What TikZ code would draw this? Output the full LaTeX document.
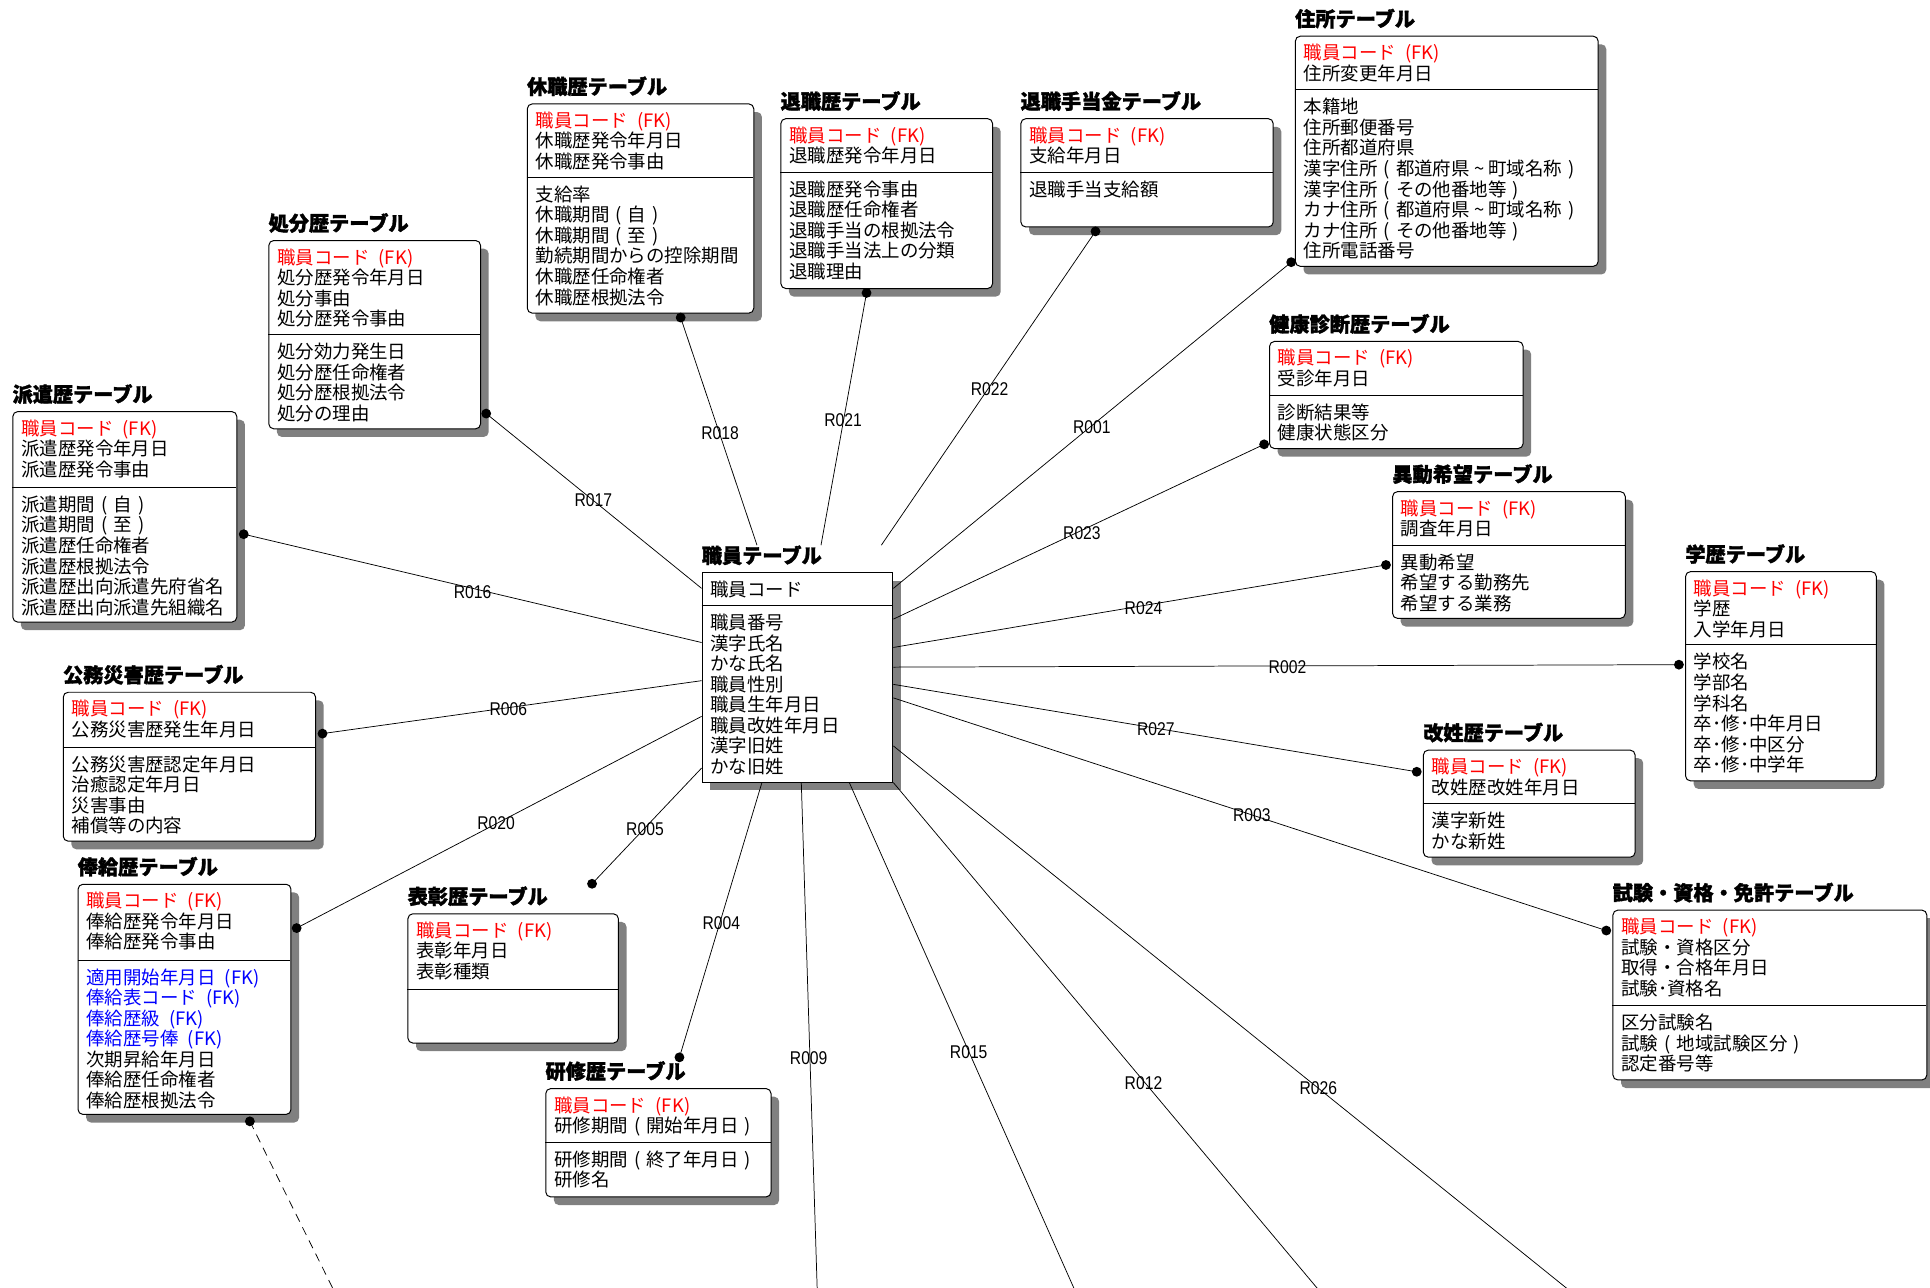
\documentclass[tikz,border=0pt]{standalone}
\usepackage{fontspec}
\usepackage{graphicx}
\newfontfamily\jp{Noto Sans CJK JP}[BoldFeatures={FakeBold=1.6}]
\newfontfamily\lab{Liberation Sans}
\definecolor{shgray}{RGB}{128,128,128}
\definecolor{fkred}{RGB}{255,0,0}
\definecolor{fkblue}{RGB}{0,0,255}
\pgfdeclarelayer{shadowlayer}
\pgfdeclarelayer{linelayer}
\pgfsetlayers{shadowlayer,linelayer,main}
\tikzset{
  entbox/.style={draw=black, fill=white, line width=0.8pt, inner sep=0pt, anchor=north west},
  ttl/.style={anchor=base west, inner sep=0pt, font=\jp\bfseries\fontsize{16.4}{18}\selectfont},
  row/.style={anchor=base west, inner sep=0pt, font=\jp\fontsize{15}{16.7}\selectfont},
  rel/.style={line width=0.6pt, draw=black},
  rlab/.style={inner sep=0pt, font=\lab\fontsize{15}{15}\selectfont},
  enddot/.style={fill=black},
}
\newcommand\pkfk{{\color{fkred}職員コード\enspace(FK)}}
\newcommand\blfk[1]{{\color{fkblue}#1\enspace(FK)}}
\newcommand\jlp{\makebox[1em]{(}}
\newcommand\jrp{\makebox[1em]{)}}
\newcommand\jtl{\makebox[1em]{\char"007E}}
\newcommand\bc{4pt}
% #1 name, #2 left, #3 top, #4 right, #5 divider, #6 bottom, #7 title, #8 key rows, #9 attribute rows
\newcommand\erent[9]{%
  \begin{pgfonlayer}{shadowlayer}
    \fill[shgray, rounded corners=\bc] (#2+7,#3+7) rectangle (#4+7,#6+7);
  \end{pgfonlayer}
  \node[entbox, rounded corners=\bc, minimum width=#4-#2, minimum height=#6-#3] (#1) at (#2,#3) {};
  \draw[line width=0.8pt] (#2,#5) -- (#4,#5);
  \node[ttl] (#1-title) at (#2,#3-7.5) {#7};
  \foreach \tx [count=\rr] in {#8} {\node[row] at (#2+7,#3+19.5+16.7*\rr-16.7) {\tx};}
  \foreach \tx [count=\rr] in {#9} {\node[row] at (#2+7,#5+19.5+16.7*\rr-16.7) {\tx};}
}
\begin{document}
\begin{tikzpicture}[x=1pt,y=-1pt]
\useasboundingbox (0,0) rectangle (1568,1046);

\erent{jusho}{1052}{29}{1298}{73}{216}{住所テーブル}{\pkfk,住所変更年月日}{本籍地,住所郵便番号,住所都道府県,漢字住所\jlp 都道府県\jtl 町域名称\jrp,漢字住所\jlp その他番地等\jrp,カナ住所\jlp 都道府県\jtl 町域名称\jrp,カナ住所\jlp その他番地等\jrp,住所電話番号}
\erent{kenko}{1031}{277}{1237}{321}{364}{健康診断歴テーブル}{\pkfk,受診年月日}{診断結果等,健康状態区分}
\erent{ido}{1131}{399}{1320}{443}{502}{異動希望テーブル}{\pkfk,調査年月日}{異動希望,希望する勤務先,希望する業務}
\erent{gakureki}{1369}{464}{1524}{524}{634}{学歴テーブル}{\pkfk,学歴,入学年月日}{学校名,学部名,学科名,卒･修･中年月日,卒･修･中区分,卒･修･中学年}
\erent{kaisei}{1156}{609}{1328}{653}{696}{改姓歴テーブル}{\pkfk,改姓歴改姓年月日}{漢字新姓,かな新姓}
\erent{shiken}{1310}{739}{1565}{817}{877}{試験・資格・免許テーブル}{\pkfk,試験・資格区分,取得・合格年月日,試験･資格名}{区分試験名,試験\jlp 地域試験区分\jrp,認定番号等}
\erent{teate}{829}{96}{1034}{140}{184}{退職手当金テーブル}{\pkfk,支給年月日}{退職手当支給額}
\erent{taishoku}{634}{96}{806}{140}{234}{退職歴テーブル}{\pkfk,退職歴発令年月日}{退職歴発令事由,退職歴任命権者,退職手当の根拠法令,退職手当法上の分類,退職理由}
\erent{kyushoku}{428}{84}{612}{144}{254}{休職歴テーブル}{\pkfk,休職歴発令年月日,休職歴発令事由}{支給率,休職期間\jlp 自\jrp,休職期間\jlp 至\jrp,勤続期間からの控除期間,休職歴任命権者,休職歴根拠法令}
\erent{shobun}{218}{195}{390}{272}{348}{処分歴テーブル}{\pkfk,処分歴発令年月日,処分事由,処分歴発令事由}{処分効力発生日,処分歴任命権者,処分歴根拠法令,処分の理由}
\erent{haken}{10}{334}{192}{396}{505}{派遣歴テーブル}{\pkfk,派遣歴発令年月日,派遣歴発令事由}{派遣期間\jlp 自\jrp,派遣期間\jlp 至\jrp,派遣歴任命権者,派遣歴根拠法令,派遣歴出向派遣先府省名,派遣歴出向派遣先組織名}
\erent{kosai}{51}{562}{256}{607}{683}{公務災害歴テーブル}{\pkfk,公務災害歴発生年月日}{公務災害歴認定年月日,治癒認定年月日,災害事由,補償等の内容}
\erent{hokyu}{63}{718}{236}{780}{905}{俸給歴テーブル}{\pkfk,俸給歴発令年月日,俸給歴発令事由}{\blfk{適用開始年月日},\blfk{俸給表コード},\blfk{俸給歴級},\blfk{俸給歴号俸},次期昇給年月日,俸給歴任命権者,俸給歴根拠法令}
\erent{hyosho}{331}{742}{502}{804}{847}{表彰歴テーブル}{\pkfk,表彰年月日,表彰種類}{}
\erent{kenshu}{443}{884}{626}{928}{972}{研修歴テーブル}{\pkfk,研修期間\jlp 開始年月日\jrp}{研修期間\jlp 終了年月日\jrp,研修名}
\renewcommand\bc{0pt}
\erent{shokuin}{570}{465}{725}{492}{635}{職員テーブル}{職員コード}{職員番号,漢字氏名,かな氏名,職員性別,職員生年月日,職員改姓年月日,漢字旧姓,かな旧姓}

% end points on the 職員テーブル side
\coordinate (s17) at (shokuin.west |- 0,478);
\coordinate (s16) at (shokuin.west |- 0,522);
\coordinate (s06) at (shokuin.west |- 0,553);
\coordinate (s20) at (shokuin.west |- 0,582);
\coordinate (s05) at (shokuin.west |- 0,624);
\coordinate (s18) at (shokuin-title.north -| 615,0);
\coordinate (s21) at (shokuin-title.north -| 667,0);
\coordinate (s22) at (shokuin-title.north -| 716,0);
\coordinate (s01) at (shokuin.east |- 0,478);
\coordinate (s23) at (shokuin.east |- 0,503);
\coordinate (s24) at (shokuin.east |- 0,526);
\coordinate (s02) at (shokuin.east |- 0,542);
\coordinate (s27) at (shokuin.east |- 0,556);
\coordinate (s03) at (shokuin.east |- 0,567);
\coordinate (s26) at (shokuin.east |- 0,606);
\coordinate (s12) at (shokuin.south east);
\coordinate (s15) at (shokuin.south -| 690,0);
\coordinate (s09) at (shokuin.south -| 651,0);
\coordinate (s04) at (shokuin.south -| 619,0);
% end points on the child side
\coordinate (e17) at (395,336);
\coordinate (e18) at (553,258);
\coordinate (e21) at (704,238);
\coordinate (e22) at (890,188);
\coordinate (e01) at (1049,213);
\coordinate (e23) at (1027,361);
\coordinate (e24) at (1126,459);
\coordinate (e02) at (1364,540);
\coordinate (e27) at (1151,627);
\coordinate (e03) at (1305,756);
\coordinate (e16) at (198,434);
\coordinate (e06) at (262,596);
\coordinate (e20) at (241,754);
\coordinate (e05) at (481,718);
\coordinate (e04) at (552,859);
\coordinate (e26) at (1277,1050);
\coordinate (e12) at (1073,1050);
\coordinate (e15) at (874,1050);
\coordinate (e09) at (664,1050);
\coordinate (hk) at (203,911);
\coordinate (hkend) at (272,1050);

\begin{pgfonlayer}{linelayer}
\foreach \a in {17,16,06,20,05,18,21,22,01,23,24,02,27,03,26,12,15,09,04}
  {\draw[rel] (s\a) -- (e\a);}
\draw[rel, dash pattern=on 7pt off 5pt] (hk) -- (hkend);
\end{pgfonlayer}

\foreach \a in {17,16,06,20,05,18,21,22,01,23,24,02,27,03,04}
  {\fill[enddot] (e\a) circle (4pt);}
\fill[enddot] (hk) circle (4pt);

\node[rlab] (l17) at (482,406) {\scalebox{0.85}[1]{R017}};
\node[rlab] (l18) at (585,352) {\scalebox{0.85}[1]{R018}};
\node[rlab] (l21) at (685,341) {\scalebox{0.85}[1]{R021}};
\node[rlab] (l22) at (804,316) {\scalebox{0.85}[1]{R022}};
\node[rlab] (l01) at (887,347) {\scalebox{0.85}[1]{R001}};
\node[rlab] (l23) at (879,433) {\scalebox{0.85}[1]{R023}};
\node[rlab] (l24) at (929,494) {\scalebox{0.85}[1]{R024}};
\node[rlab] (l02) at (1046,542) {\scalebox{0.85}[1]{R002}};
\node[rlab] (l27) at (939,592) {\scalebox{0.85}[1]{R027}};
\node[rlab] (l03) at (1017,662) {\scalebox{0.85}[1]{R003}};
\node[rlab] (l16) at (384,481) {\scalebox{0.85}[1]{R016}};
\node[rlab] (l06) at (413,576) {\scalebox{0.85}[1]{R006}};
\node[rlab] (l20) at (403,669) {\scalebox{0.85}[1]{R020}};
\node[rlab] (l05) at (524,674) {\scalebox{0.85}[1]{R005}};
\node[rlab] (l04) at (586,750) {\scalebox{0.85}[1]{R004}};
\node[rlab] (l09) at (657,860) {\scalebox{0.85}[1]{R009}};
\node[rlab] (l15) at (787,855) {\scalebox{0.85}[1]{R015}};
\node[rlab] (l12) at (929,880) {\scalebox{0.85}[1]{R012}};
\node[rlab] (l26) at (1071,884) {\scalebox{0.85}[1]{R026}};
\end{tikzpicture}
\end{document}
